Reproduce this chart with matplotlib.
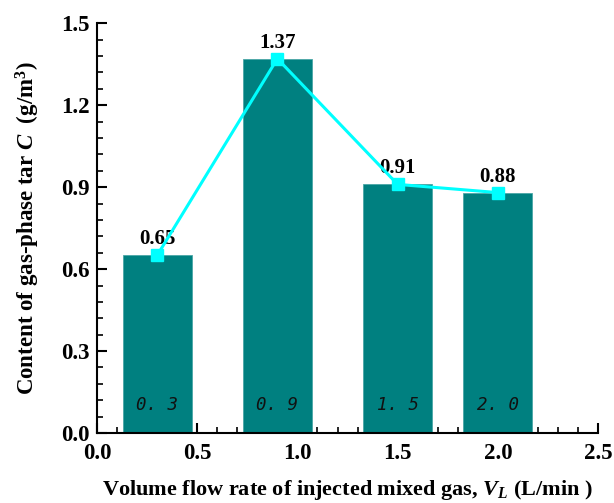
import matplotlib
matplotlib.use("Agg")
import matplotlib.pyplot as plt
from matplotlib.ticker import MultipleLocator, FormatStrFormatter

# Gas-phase tar content at each injected gas flow rate
flow_rates = [0.3, 0.9, 1.5, 2.0]
tar_content = [0.65, 1.37, 0.91, 0.88]
bar_tags = ["0. 3", "0. 9", "1. 5", "2. 0"]

plt.rcParams["font.family"] = ["Liberation Serif", "DejaVu Serif"]
plt.rcParams["font.weight"] = "bold"
plt.rcParams["mathtext.fontset"] = "custom"
plt.rcParams["mathtext.rm"] = "Liberation Serif:bold"
plt.rcParams["mathtext.it"] = "Liberation Serif:italic:bold"
plt.rcParams["mathtext.bf"] = "Liberation Serif:bold"

fig = plt.figure(figsize=(6.14, 5.03), dpi=100)
ax = fig.add_axes([0.158, 0.139, 0.816, 0.815])

ax.bar(flow_rates, tar_content, width=0.345, color="#008080",
       edgecolor="#4aa6a6", linewidth=0.6, zorder=2)
ax.plot(flow_rates, tar_content, color="#00FFFF", linewidth=2.2,
        marker="s", markersize=8, zorder=5)

for x, y in zip(flow_rates, tar_content):
    ax.text(x, y + 0.022, f"{y:.2f}", ha="center", va="bottom",
            fontsize=15, fontweight="bold", zorder=3)

for x, tag in zip(flow_rates, bar_tags):
    ax.text(x, 0.102, tag, ha="center", va="center", fontsize=12.5,
            family="DejaVu Sans Mono", style="oblique", fontweight="normal",
            color="#111111", zorder=3)

ax.set_xlim(0, 2.5)
ax.set_ylim(0, 1.5)
ax.xaxis.set_major_locator(MultipleLocator(0.5))
ax.xaxis.set_minor_locator(MultipleLocator(0.1))
ax.yaxis.set_major_locator(MultipleLocator(0.3))
ax.yaxis.set_minor_locator(MultipleLocator(0.06))
ax.xaxis.set_major_formatter(FormatStrFormatter("%.1f"))
ax.yaxis.set_major_formatter(FormatStrFormatter("%.1f"))

for side in ("top", "right"):
    ax.spines[side].set_visible(False)
for side in ("left", "bottom"):
    ax.spines[side].set_linewidth(1.5)

ax.tick_params(which="major", direction="in", length=7, width=1.5,
               labelsize=16.5)
ax.tick_params(axis="x", which="major", pad=7)
ax.tick_params(axis="y", which="major", pad=5)
ax.tick_params(which="minor", direction="in", length=4, width=1.2)
for lab in ax.get_xticklabels() + ax.get_yticklabels():
    lab.set_fontweight("bold")

ax.set_xlabel(r"Volume flow rate of injected mixed gas, $V_L$ (L/min )",
              fontsize=16, fontweight="bold", labelpad=10)
ax.set_ylabel(r"Content of gas-phase tar $C$  (g/m$^3$)",
              fontsize=16.5, fontweight="bold", labelpad=14)

fig.savefig("out.png", dpi=100)
